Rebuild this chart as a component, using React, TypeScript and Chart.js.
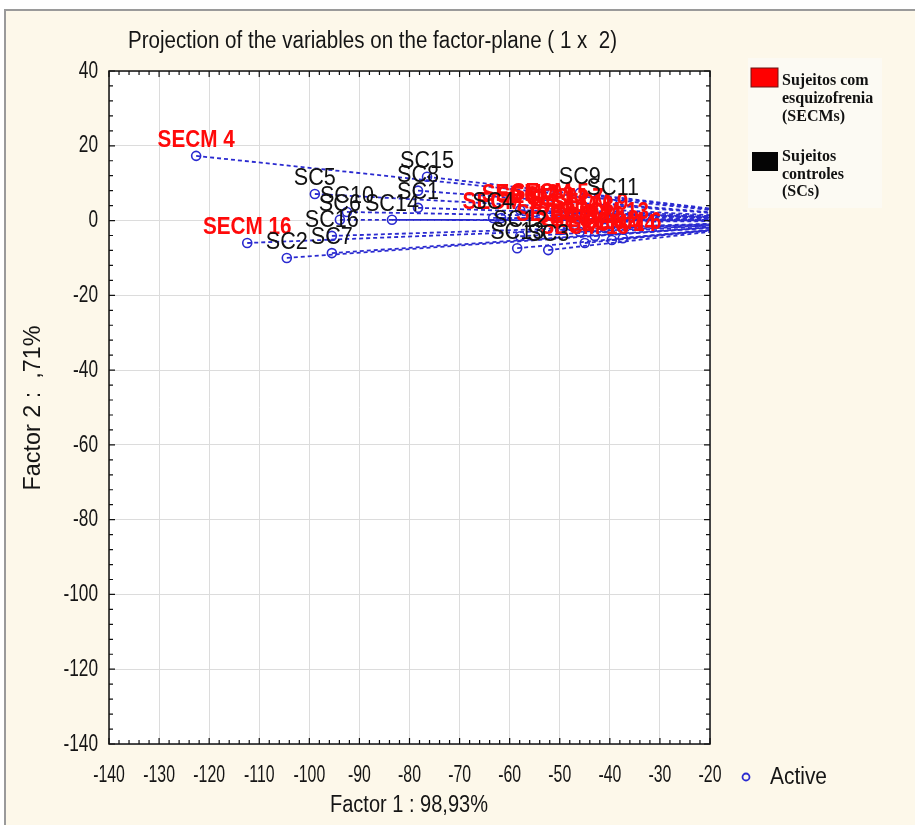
import React, { useEffect, useRef } from "react";
import { Chart, registerables } from "chart.js";
Chart.register(...registerables);

// ---- data ----
const secmNames = ["SECM 1", "SECM 2", "SECM 3", "SECM 4", "SECM 5", "SECM 6", "SECM 7", "SECM 8", "SECM 9", "SECM 10", "SECM 11", "SECM 12", "SECM 13", "SECM 14", "SECM 15", "SECM 16"];
const secmX = [-61.7, -57.9, -54.9, -122.6, -51.9, -37.4, -48.9, -46.9, -44.0, -49.9, -46.0, -43.0, -41.0, -39.6, -45.0, -112.4];
const secmY = [0.7, 2.8, 2.3, 17.3, 3.1, -4.7, 1.8, -0.4, 0.4, -2.5, -3.0, -4.1, -2.0, -5.2, -6.0, -6.0];

const scNames = ["SC1", "SC2", "SC3", "SC4", "SC5", "SC6", "SC7", "SC8", "SC9", "SC10", "SC11", "SC12", "SC13", "SC14", "SC15", "SC16"];
const scX = [-78.3, -104.5, -52.3, -63.3, -98.9, -93.9, -95.5, -78.3, -46.0, -92.5, -39.4, -57.9, -58.5, -83.5, -76.5, -95.5];
const scY = [3.4, -10.0, -7.9, 0.7, 7.1, 0.2, -8.7, 8.0, 7.4, 2.3, 4.4, -4.2, -7.4, 0.2, 11.7, -4.1];

const xMin = -140, xMax = -20, xStep = 10, xMinorStep = 2;
const yMin = -140, yMax = 40, yStep = 20, yMinorStep = 4;

const titleText = "Projection of the variables on the factor-plane ( 1 x  2)";
const xTitle = "Factor 1 : 98,93%";
const yTitle = "Factor 2 :  ,71%";
const activeLabel = "Active";
const legendRed = ["Sujeitos com", "esquizofrenia", "(SECMs)"];
const legendBlack = ["Sujeitos", "controles", "(SCs)"];

const BLUE = "#2a2ad0";
const SANS = '"Liberation Sans", Arial, sans-serif';
const SERIF = '"Liberation Serif", "Times New Roman", serif';

function drawText(ctx: CanvasRenderingContext2D, text: string, x: number, y: number, font: string, color: string, align: CanvasTextAlign, sx: number, baseline: CanvasTextBaseline = "middle") {
  ctx.save();
  ctx.font = font;
  ctx.fillStyle = color;
  ctx.textAlign = align;
  ctx.textBaseline = baseline;
  ctx.translate(x, y);
  ctx.scale(sx, 1);
  ctx.fillText(text, 0, 0);
  ctx.restore();
}

function fitScale(ctx: CanvasRenderingContext2D, text: string, font: string, width: number) {
  ctx.save();
  ctx.font = font;
  const w = ctx.measureText(text).width;
  ctx.restore();
  return width / w;
}

const framePlugin = {
  id: "frame",
  beforeDraw(chart: any) {
    const ctx = chart.ctx as CanvasRenderingContext2D;
    const { left, top, right, bottom } = chart.chartArea;
    ctx.save();
    ctx.fillStyle = "#ffffff";
    ctx.fillRect(0, 0, chart.width, chart.height);
    ctx.fillStyle = "#fdf8ea";
    ctx.fillRect(5, 10, chart.width - 5, chart.height - 10);
    ctx.strokeStyle = "#9a9a9a";
    ctx.lineWidth = 2;
    ctx.beginPath();
    ctx.moveTo(5, chart.height);
    ctx.lineTo(5, 10);
    ctx.lineTo(chart.width, 10);
    ctx.stroke();
    // legend box
    ctx.fillStyle = "#fcfaf3";
    ctx.fillRect(748, 58, 134, 150);
    ctx.fillStyle = "#ffffff";
    ctx.fillRect(left, top, right - left, bottom - top);
    ctx.restore();
  },
  afterDraw(chart: any) {
    const ctx = chart.ctx as CanvasRenderingContext2D;
    const xs = chart.scales.x;
    const ys = chart.scales.y;
    const { left, top, right, bottom } = chart.chartArea;

    // point labels
    const labelFontRed = `bold 23px ${SANS}`;
    const labelFontBlack = `24px ${SANS}`;
    for (let i = 0; i < secmNames.length; i++) {
      const px = xs.getPixelForValue(secmX[i]);
      const py = ys.getPixelForValue(secmY[i]);
      drawText(ctx, secmNames[i], px, py - 9, labelFontRed, "#ff0a0a", "center", 0.9, "alphabetic");
    }
    for (let i = 0; i < scNames.length; i++) {
      const px = xs.getPixelForValue(scX[i]);
      const py = ys.getPixelForValue(scY[i]);
      drawText(ctx, scNames[i], px, py - 9, labelFontBlack, "#111", "center", 0.9, "alphabetic");
    }

    ctx.save();
    // box
    ctx.strokeStyle = "#111";
    ctx.lineWidth = 1.5;
    ctx.strokeRect(left, top, right - left, bottom - top);
    // inside ticks
    ctx.lineWidth = 1.2;
    ctx.beginPath();
    for (let v = xMin; v <= xMax + 1e-9; v += xMinorStep) {
      const p = xs.getPixelForValue(v);
      const len = Math.abs(v % xStep) < 1e-9 ? 6 : 4;
      ctx.moveTo(p, bottom);
      ctx.lineTo(p, bottom - len);
      ctx.moveTo(p, top);
      ctx.lineTo(p, top + len);
    }
    for (let v = yMin; v <= yMax + 1e-9; v += yMinorStep) {
      const p = ys.getPixelForValue(v);
      const len = Math.abs(v % yStep) < 1e-9 ? 6 : 4;
      ctx.moveTo(left, p);
      ctx.lineTo(left + len, p);
      ctx.moveTo(right, p);
      ctx.lineTo(right - len, p);
    }
    ctx.stroke();
    ctx.restore();

    // tick labels
    const tickFont = `24px ${SANS}`;
    xs.ticks.forEach((t: any) => {
      const p = xs.getPixelForValue(t.value);
      drawText(ctx, String(t.value), p, bottom + 31, tickFont, "#151515", "center", 0.66);
    });
    ys.ticks.forEach((t: any) => {
      const p = ys.getPixelForValue(t.value);
      drawText(ctx, String(t.value), left - 11, p, tickFont, "#151515", "right", 0.72);
    });

    // title
    const titleFont = `23px ${SANS}`;
    drawText(ctx, titleText, 128, 42, titleFont, "#151515", "left", fitScale(ctx, titleText, titleFont, 489));
    // axis titles
    drawText(ctx, xTitle, 409, 806, titleFont, "#151515", "center", fitScale(ctx, xTitle, titleFont, 158));
    ctx.save();
    ctx.translate(34, 408);
    ctx.rotate(-Math.PI / 2);
    drawText(ctx, yTitle, 0, 0, titleFont, "#151515", "center", fitScale(ctx, yTitle, titleFont, 165));
    ctx.restore();

    // Active legend
    ctx.save();
    ctx.strokeStyle = BLUE;
    ctx.lineWidth = 1.8;
    ctx.beginPath();
    ctx.arc(746, 777, 3.5, 0, Math.PI * 2);
    ctx.stroke();
    ctx.restore();
    drawText(ctx, activeLabel, 770, 778, titleFont, "#151515", "left", fitScale(ctx, activeLabel, titleFont, 57));

    // group legend
    ctx.save();
    ctx.fillStyle = "#ff0000";
    ctx.fillRect(751, 68, 27, 19);
    ctx.strokeStyle = "#6a1515";
    ctx.lineWidth = 1;
    ctx.strokeRect(751, 68, 27, 19);
    ctx.fillStyle = "#050505";
    ctx.fillRect(752, 152, 26, 19);
    ctx.restore();
    const legFont = `bold 16px ${SERIF}`;
    legendRed.forEach((s, i) => drawText(ctx, s, 782, 81 + i * 18, legFont, "#111", "left", 1));
    legendBlack.forEach((s, i) => drawText(ctx, s, 782, 157 + i * 17.5, legFont, "#111", "left", 1));
  },
};

export default function App() {
  const ref = useRef<HTMLCanvasElement | null>(null);
  useEffect(() => {
    if (!ref.current) return;
    const mk = (x: number, y: number) => ({
      data: [{ x, y }, { x: 0, y: 0 }],
      showLine: true,
      borderColor: BLUE,
      borderWidth: 1.8,
      borderDash: [4, 3],
      pointRadius: (c: any) => (c.dataIndex === 0 ? 4.5 : 0),
      pointBorderColor: BLUE,
      pointBackgroundColor: "rgba(0,0,0,0)",
      pointBorderWidth: 1.6,
    });
    const datasets: any[] = [];
    for (let i = 0; i < scNames.length; i++) datasets.push({ label: scNames[i], ...mk(scX[i], scY[i]) });
    for (let i = 0; i < secmNames.length; i++) datasets.push({ label: secmNames[i], ...mk(secmX[i], secmY[i]) });
    const chart = new Chart(ref.current, {
      type: "scatter",
      data: { datasets },
      options: {
        responsive: false,
        animation: false,
        layout: { padding: { left: 109, top: 71, right: 205, bottom: 81 } },
        plugins: { legend: { display: false }, tooltip: { enabled: false }, title: { display: false } },
        scales: {
          x: {
            type: "linear",
            min: xMin,
            max: xMax,
            ticks: { stepSize: xStep, display: false },
            grid: { color: "#dcdcdc", lineWidth: 1, drawTicks: false },
            border: { display: false },
          },
          y: {
            type: "linear",
            min: yMin,
            max: yMax,
            ticks: { stepSize: yStep, display: false },
            grid: { color: "#dcdcdc", lineWidth: 1, drawTicks: false },
            border: { display: false },
          },
        },
      },
      plugins: [framePlugin],
    });
    return () => chart.destroy();
  }, []);
  return (
    <div style={{ position: "absolute", left: 0, top: 0, width: 915, height: 825 }}>
      <canvas ref={ref} width={915} height={825} style={{ display: "block" }} />
    </div>
  );
}
